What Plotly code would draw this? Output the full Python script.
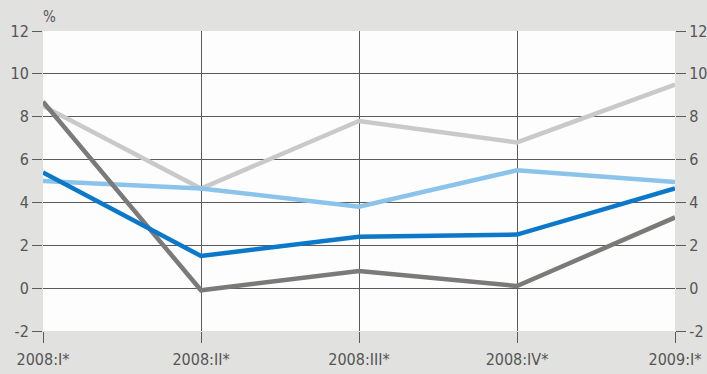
import plotly.graph_objects as go

categories = ["2008:I*", "2008:II*", "2008:III*", "2008:IV*", "2009:I*"]
series_light_gray = [8.5, 4.65, 7.8, 6.8, 9.5]
series_light_blue = [5.0, 4.65, 3.8, 5.5, 4.95]
series_blue = [5.4, 1.5, 2.4, 2.5, 4.65]
series_dark_gray = [8.7, -0.1, 0.8, 0.1, 3.3]
y_ticks = [-2, 0, 2, 4, 6, 8, 10, 12]
y_tick_labels = ["-2", "0", "2", "4", "6", "8", "10", "12"]

xpos = list(range(len(categories)))
FONT = "Liberation Sans Narrow, DejaVu Sans Condensed, Arial Narrow, sans-serif"
GRID = "#5a5a5a"

fig = go.Figure()
for vals, col in [
    (series_light_gray, "#c9c9c9"),
    (series_light_blue, "#8cc3ea"),
    (series_dark_gray, "#7b7a78"),
    (series_blue, "#0b78c9"),
]:
    fig.add_trace(go.Scatter(x=xpos, y=vals, mode="lines",
                             line=dict(color=col, width=4.5), showlegend=False,
                             hoverinfo="skip"))

fig.update_layout(
    width=707, height=374,
    margin=dict(l=43, r=32, t=31, b=43, autoexpand=False),
    paper_bgcolor="#e1e1df",
    plot_bgcolor="#fdfdfd",
    font=dict(family=FONT, size=16, color="#555555"),
    xaxis=dict(range=[0, 4], tickvals=xpos, ticktext=categories,
               showgrid=True, gridcolor=GRID, gridwidth=1,
               ticks="outside", ticklen=11, tickcolor=GRID, tickwidth=1,
               zeroline=False, showline=False, fixedrange=True, automargin=False,
               ticklabelstandoff=3),
    yaxis=dict(range=[-2, 12], tickvals=y_ticks, ticktext=y_tick_labels,
               showgrid=True, gridcolor=GRID, gridwidth=1,
               ticks="outside", ticklen=10, tickcolor=GRID, tickwidth=1,
               zeroline=False, showline=False, automargin=False),
    yaxis2=dict(range=[-2, 12], tickvals=y_ticks, ticktext=y_tick_labels,
                overlaying="y", side="right",
                anchor="x", showgrid=False, ticks="outside", ticklen=10,
                tickcolor=GRID, tickwidth=1, zeroline=False, showline=False,
                automargin=False),
    annotations=[dict(text="%", xref="paper", yref="paper", x=0, y=1,
                      xanchor="left", yanchor="bottom", showarrow=False,
                      xshift=-2, yshift=3, font=dict(size=15, color="#555555"))],
)
fig.add_trace(go.Scatter(x=[xpos[0]], y=[series_blue[0]], yaxis="y2",
                         mode="lines", line=dict(width=0), showlegend=False,
                         hoverinfo="skip"))
fig.write_html("out.html", config={"displayModeBar": False},
               post_script="document.body.style.margin='0';document.body.style.padding='0';document.body.style.overflow='hidden';")
